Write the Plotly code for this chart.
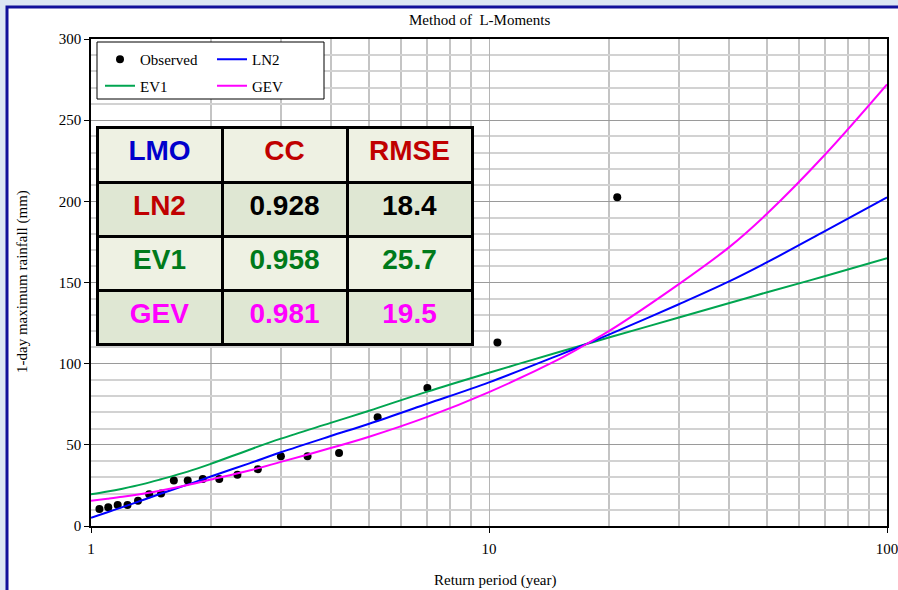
import plotly.graph_objects as go

# observed annual 1-day maxima, plotted at Weibull return periods
T_OBS = [21.0, 10.5, 7.0, 5.25, 4.2, 3.5, 3.0, 2.625, 2.333, 2.1,
         1.909, 1.75, 1.615, 1.5, 1.4, 1.3125, 1.235, 1.167, 1.105, 1.05]
RAIN_OBS = [202.5, 113, 85, 67, 45, 43, 43, 35, 31.5, 29,
            29, 28, 28, 20, 19.5, 15.5, 13, 13, 11.5, 10.5]

# fitted curves (L-moments)
T_FIT = [1.0, 1.1, 1.2, 1.35, 1.5, 1.75, 2, 2.5, 3, 4, 5, 7,
         10, 15, 17.4, 20, 30, 40, 50, 70, 100]
LN2 = [5.1, 8.5, 11.6, 16, 20, 25.5, 30.5, 38.6, 45.4, 55.4, 63, 75.3,
       88.5, 105.3, 111.7, 117.9, 136.6, 150.5, 162.5, 181.8, 202.5]
EV1 = [19.5, 21.2, 23.0, 25.8, 28.8, 33.5, 38.3, 47, 53.8, 63.5, 71, 82.8,
       94.4, 107.2, 111.8, 116.1, 128.4, 137.2, 144, 154, 165]
GEV = [15.6, 16.8, 18.0, 19.9, 21.9, 25.3, 28.6, 34.2, 39.5, 48, 55, 67.2,
       82.5, 102.8, 111.5, 120, 149, 171.5, 192.5, 229, 272]

# goodness-of-fit table
TBL_HEAD = ["LMO", "CC", "RMSE"]
TBL_DIST = ["LN2", "EV1", "GEV"]
TBL_CC = ["0.928", "0.958", "0.981"]
TBL_RMSE = ["18.4", "25.7", "19.5"]

SERIF = "Liberation Serif, Times New Roman, serif"
SANS = "Liberation Sans, Arial, sans-serif"
ROW_COLORS = ["#c00000", "#007a1a", "#ff00ff"]
ROW_COLORS_NUM = ["#000000", "#007a1a", "#ff00ff"]
ROW_FILLS = ["#dfe7d3", "#eef1e3", "#dfe7d3"]

# plot area in pixels
W, H = 898, 590
L, R, T, B = 91, 11, 39, 64
PW, PH = W - L - R, H - T - B


def px_x(x):
    return (x - L) / PW


def px_y(y):
    return (H - B - y) / PH


def build():
    fig = go.Figure()

    fig.add_trace(go.Scatter(
        x=T_OBS, y=RAIN_OBS, mode="markers", name="Observed",
        marker=dict(color="black", size=8), legend="legend", legendgroup="a"
    ))
    fig.add_trace(go.Scatter(
        x=T_FIT, y=EV1, mode="lines", name="EV1", line_shape="spline",
        line=dict(color="#00a550", width=2), legend="legend", legendgroup="b"
    ))
    fig.add_trace(go.Scatter(
        x=T_FIT, y=LN2, mode="lines", name="LN2", line_shape="spline",
        line=dict(color="#0000ff", width=2), legend="legend2", legendgroup="c"
    ))
    fig.add_trace(go.Scatter(
        x=T_FIT, y=GEV, mode="lines", name="GEV", line_shape="spline",
        line=dict(color="#ff00ff", width=2), legend="legend2", legendgroup="d"
    ))

    # table of fit statistics
    col0 = [f"<b>{d}</b>" for d in TBL_DIST]
    col1 = [f"<b>{v}</b>" for v in TBL_CC]
    col2 = [f"<b>{v}</b>" for v in TBL_RMSE]
    fig.add_trace(go.Table(
        domain=dict(x=[px_x(97), px_x(472)], y=[px_y(346), px_y(127)]),
        columnwidth=[1, 1, 1],
        header=dict(
            values=[f"<b>{h}</b>" for h in TBL_HEAD],
            fill_color="#eef1e3",
            line=dict(color="black", width=3),
            align="center", height=55,
            font=dict(family=SANS, size=28, color=["#0000cc", "#c00000", "#c00000"]),
        ),
        cells=dict(
            values=[col0, col1, col2],
            fill_color=[ROW_FILLS] * 3,
            line=dict(color="black", width=3),
            align="center", height=54,
            font=dict(family=SANS, size=28,
                      color=[ROW_COLORS, ROW_COLORS_NUM, ROW_COLORS_NUM]),
        ),
    ))

    shapes = [
        # white chart frame with dark blue border
        dict(type="rect", xref="paper", yref="paper",
             x0=px_x(7), x1=px_x(940), y0=px_y(640), y1=px_y(7),
             fillcolor="white", line=dict(color="#10109a", width=3), layer="below"),
        # legend box
        dict(type="rect", xref="paper", yref="paper",
             x0=px_x(97), x1=px_x(324), y0=px_y(99), y1=px_y(42),
             fillcolor="white", line=dict(color="black", width=1), layer="above"),
    ]

    annotations = [
        dict(text="Method of  L-Moments", x=px_x(479), y=px_y(20)),
        dict(text="Return period (year)", x=px_x(495), y=px_y(580)),
        dict(text="1-day maximum rainfall (mm)", x=px_x(22), y=px_y(282), textangle=-90),
    ]
    for a in annotations:
        a.update(xref="paper", yref="paper", xanchor="center", yanchor="middle",
                 showarrow=False, font=dict(family=SERIF, size=15, color="black"))

    fig.update_layout(
        width=W, height=H,
        margin=dict(l=L, r=R, t=T, b=B),
        paper_bgcolor="#dbe6f3",
        plot_bgcolor="white",
        font=dict(family=SERIF, size=15, color="black"),
        showlegend=True,
        legend=dict(x=px_x(100), y=px_y(43), xanchor="left", yanchor="top",
                    bgcolor="rgba(0,0,0,0)", tracegroupgap=4, font=dict(size=15)),
        legend2=dict(x=px_x(212), y=px_y(43), xanchor="left", yanchor="top",
                     bgcolor="rgba(0,0,0,0)", tracegroupgap=4, font=dict(size=15)),
        shapes=shapes,
        annotations=annotations,
        xaxis=dict(
            type="log", range=[0, 2], automargin=False,
            tickvals=[1, 10, 100], ticktext=["1", "10", "100"],
            ticks="outside", ticklen=5, tickcolor="black", ticklabelstandoff=3,
            ticklabeloverflow="allow",
            showline=True, linecolor="black", linewidth=1.5, mirror=True,
            showgrid=True, gridcolor="#b4b4b4", gridwidth=1,
            minor=dict(tickvals=[2, 3, 4, 5, 6, 7, 8, 9, 20, 30, 40, 50, 60, 70, 80, 90],
                       showgrid=True, gridcolor="#c4c4c4", gridwidth=1.5, ticks=""),
            zeroline=False,
        ),
        yaxis=dict(
            range=[0, 300], dtick=50, automargin=False,
            ticks="outside", ticklen=5, tickcolor="black",
            showline=True, linecolor="black", linewidth=1.5, mirror=True,
            showgrid=True, gridcolor="#9a9a9a", gridwidth=1,
            minor=dict(dtick=10, showgrid=True, gridcolor="#d2d2d2", gridwidth=1.5, ticks=""),
            zeroline=False,
        ),
    )
    return fig


fig = build()
fig.write_html("out.html", config={"displayModeBar": False},
               post_script="document.body.style.margin='0';")
